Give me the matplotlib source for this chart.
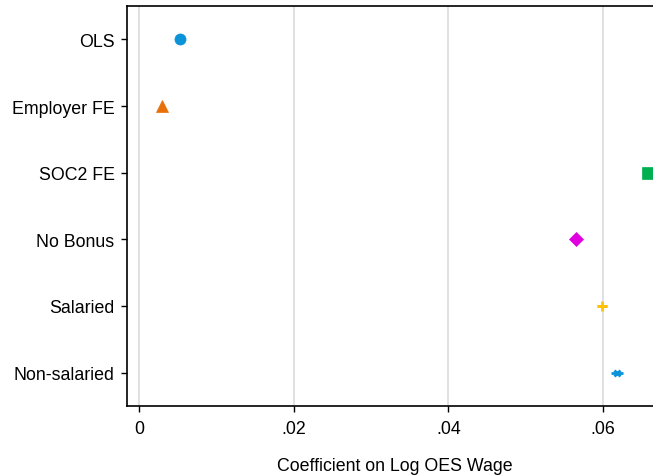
import matplotlib
matplotlib.use("Agg")
import matplotlib.pyplot as plt

plt.rcParams['font.family'] = ['Liberation Sans', 'DejaVu Sans']

# coefficient estimates
labels = ["OLS", "Employer FE", "SOC2 FE", "No Bonus", "Salaried", "Non-salaried"]
coefs = [0.00526, 0.00297, 0.0658, 0.05655, 0.05987, 0.06177]
ci_half = [0.0003, 0.0003, 0.0004, 0.0004, 0.0007, 0.00078]
markers = ["o", "^", "s", "D", "+", "x"]
colors = ["#0a93d8", "#e8700a", "#00b050", "#e000e0", "#ffc20a", "#0a93d8"]
sizes = [8, 9, 8, 7, 7, 4.5]

fig = plt.figure(figsize=(6.53, 4.77), dpi=100)
# axes run past the right edge of the figure, as in the original crop
ax = fig.add_axes([0.1945, 0.1468, 0.85, 0.8385])

ypos = list(range(1, len(labels) + 1))
for i in range(len(labels)):
    ax.errorbar(coefs[i], ypos[i], xerr=ci_half[i], fmt="none",
                ecolor=colors[i], elinewidth=2, capsize=0, zorder=2)
    ax.plot(coefs[i], ypos[i], marker=markers[i], color=colors[i],
            markersize=sizes[i], markeredgewidth=2 if markers[i] in "+x" else 0.5,
            linestyle="none", zorder=3)

x0 = -0.00155
ax.set_xlim(x0, x0 + 0.85 * 653 / 7733.0)
ax.set_ylim(6.5, 0.5)
ax.set_yticks(ypos)
ax.set_yticklabels(labels)
ax.set_xticks([0, 0.02, 0.04, 0.06])
ax.set_xticklabels(["0", ".02", ".04", ".06"])
ax.grid(axis="x", color="#dcdcdc", linewidth=1.2)
ax.set_axisbelow(True)
ax.tick_params(labelsize=12.8, direction="out", length=4, width=1)
ax.tick_params(axis="x", pad=6)
ax.tick_params(axis="y", pad=5)
ax.spines["right"].set_visible(False)
for s in ["left", "bottom", "top"]:
    ax.spines[s].set_linewidth(1.2)
ax.set_xlabel("Coefficient on Log OES Wage", fontsize=12.8, labelpad=14.5)
ax.xaxis.label.set_x(0.483)

fig.savefig("out.png", dpi=100)
